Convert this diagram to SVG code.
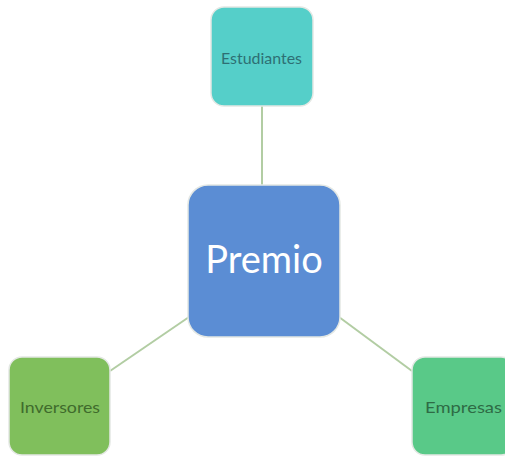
<svg xmlns="http://www.w3.org/2000/svg" width="505" height="457" viewBox="0 0 505 457">
<style>
.box{stroke:#e4e8e4;stroke-width:1.5}
.lbl{font-family:Lato,"Open Sans","Liberation Sans",sans-serif;font-size:15px;text-anchor:middle}
.conn{stroke:#b2cda3;stroke-width:2;fill:none}
</style>
<rect width="505" height="457" fill="#ffffff"/>
<g id="connectors">
<line class="conn" x1="262" y1="106" x2="262" y2="185"/>
<line class="conn" x1="189" y1="317" x2="110" y2="371"/>
<line class="conn" x1="339" y1="317" x2="412" y2="371"/>
</g>
<g id="node-estudiantes">
<rect class="box" x="211" y="7" width="102" height="99" rx="13" fill="#55cfc9"/>
<text class="lbl" x="261.5" y="64" fill="#2e6f74" textLength="81" lengthAdjust="spacingAndGlyphs">Estudiantes</text>
</g>
<g id="node-premio">
<rect class="box" x="188" y="185" width="152" height="152" rx="20" fill="#5b8dd4"/>
<text x="264" y="273" font-family="Lato,'Open Sans','Liberation Sans',sans-serif" font-size="38" text-anchor="middle" fill="#ffffff">Premio</text>
</g>
<g id="node-inversores">
<rect class="box" x="9" y="357" width="101" height="98" rx="13" fill="#80bf5c"/>
<text class="lbl" x="60" y="413" fill="#3f6b2c" textLength="80" lengthAdjust="spacingAndGlyphs">Inversores</text>
</g>
<g id="node-empresas">
<rect class="box" x="412" y="357" width="102" height="98" rx="13" fill="#59c988"/>
<text class="lbl" x="463.5" y="413" fill="#2e6b45" textLength="77" lengthAdjust="spacingAndGlyphs">Empresas</text>
</g>
</svg>
